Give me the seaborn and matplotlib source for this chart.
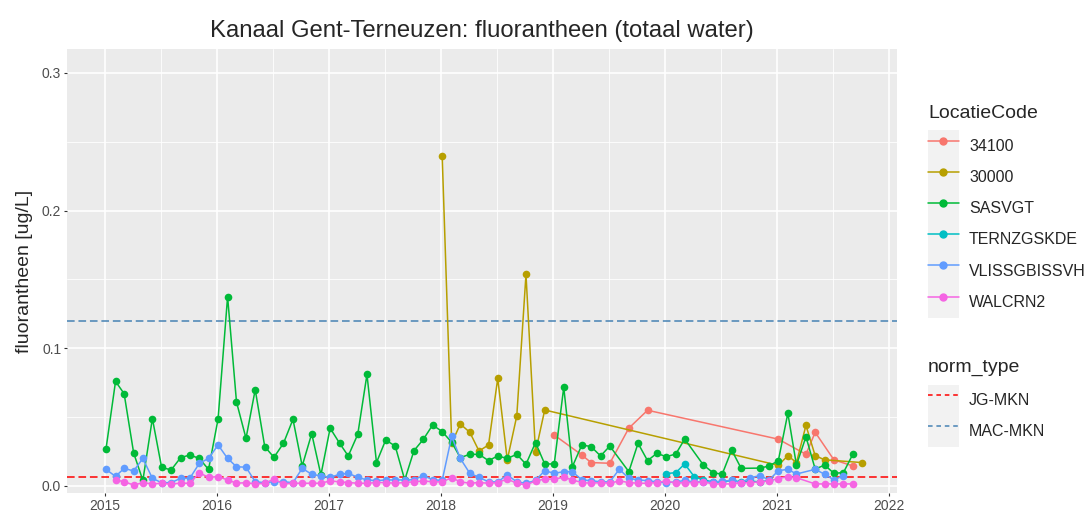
import pandas as pd
import seaborn as sns
import matplotlib.pyplot as plt
from matplotlib.lines import Line2D
from matplotlib.patches import Patch
from matplotlib.legend_handler import HandlerTuple

# location codes and ggplot hue colours
codes = ["34100", "30000", "SASVGT", "TERNZGSKDE", "VLISSGBISSVH", "WALCRN2"]
colors = ["#F8766D", "#B79F00", "#00BA38", "#00BFC4", "#619CFF", "#F564E3"]

# 34100 and 30000: sampled on separate months
red_months = ["2019-01", "2019-04", "2019-05", "2019-07", "2019-09", "2019-11",
              "2021-01", "2021-04", "2021-05", "2021-07", "2021-09"]
red_values = [0.037, 0.0225, 0.017, 0.0165, 0.042, 0.055,
              0.034, 0.023, 0.039, 0.019, 0.0145]

gold_months = ["2018-01", "2018-02", "2018-03", "2018-04", "2018-05", "2018-06",
               "2018-07", "2018-08", "2018-09", "2018-10", "2018-11", "2018-12",
               "2021-01", "2021-02", "2021-03", "2021-04", "2021-05", "2021-06", "2021-10"]
gold_values = [0.24, 0.031, 0.045, 0.039, 0.0254, 0.0298,
               0.0782, 0.0189, 0.0508, 0.1537, 0.0245, 0.0552,
               0.015, 0.022, 0.017, 0.044, 0.022, 0.019, 0.017]

# monthly series (None = no sample that month)
sasvgt_start = "2015-01"
sasvgt_values = [
    0.027, 0.076, 0.067, 0.024, 0.004, 0.049, 0.0136, 0.0116, 0.0206, 0.0225, 0.020, 0.012,
    0.0487, 0.1375, 0.061, 0.0346, 0.070, 0.0286, 0.0208, 0.031, 0.0484, 0.0145, 0.038, 0.008,
    0.042, 0.031, 0.0218, 0.0375, 0.081, 0.017, 0.0334, 0.029, 0.0044, 0.0256, 0.034, 0.0443,
    0.0395, 0.0317, 0.0206, 0.023, 0.023, 0.0184, 0.0218, 0.020, 0.023, 0.0158, 0.0315, 0.016,
    0.016, 0.0717, 0.014, 0.0298, 0.0286, 0.0218, 0.029, None, 0.0104, 0.031, 0.0184, 0.0237,
    0.0213, 0.0232, 0.0341, None, 0.0152, 0.0097, 0.0085, 0.0261, 0.0128, None, 0.013, 0.0145,
    0.0184, 0.0528, 0.0152, 0.0358, 0.0123, 0.0152, 0.0092, 0.0097, 0.0232,
]

ternz_start = "2020-01"
ternz_values = [0.009, 0.0097, 0.016, 0.0068, 0.0044, 0.003, 0.003, 0.004, 0.003, 0.0035, 0.003, 0.004]

vliss_start = "2015-01"
vliss_values = [
    0.012, 0.007, 0.0128, 0.0109, 0.020, 0.0056, 0.0024, 0.0024, 0.0056, 0.0056, 0.0165, 0.020,
    0.0298, 0.020, 0.014, 0.0136, 0.0031, 0.0024, 0.0031, 0.0031, 0.0024, 0.0128, 0.0085, 0.0073,
    0.0063, 0.0085, 0.0092, 0.0063, 0.0044, 0.0039, 0.0044, 0.0044, 0.0044, 0.0046, 0.0075, 0.0046,
    0.004, 0.036, 0.020, 0.0092, 0.0063, 0.003, 0.003, 0.008, 0.003, 0.002, 0.004, 0.0111,
    0.0092, 0.0104, 0.0104, 0.0044, 0.0039, 0.003, 0.003, 0.0121, 0.0056, 0.0044, 0.0039, 0.003,
    0.0024, 0.003, 0.004, 0.003, 0.003, 0.003, 0.0035, 0.004, 0.0024, 0.006, 0.0075, 0.0044,
    0.0111, 0.0121, 0.0087, None, 0.0121, 0.0085, 0.0044, 0.0075,
]

walcrn_start = "2015-02"
walcrn_values = [
    0.0044, 0.0031, 0.0007, 0.0024, 0.0015, 0.002, 0.0015, 0.002, 0.002, 0.0095, 0.0063,
    0.0068, 0.0044, 0.002, 0.0024, 0.0015, 0.002, 0.005, 0.0015, 0.002, 0.002, 0.002, 0.002,
    0.0037, 0.003, 0.0025, 0.002, 0.002, 0.0025, 0.0025, 0.002, 0.0025, 0.003, 0.0037, 0.003,
    0.003, 0.006, 0.003, 0.002, 0.0025, 0.002, 0.0025, 0.005, 0.002, 0.0007, 0.0037, 0.005,
    0.005, 0.0063, 0.0044, 0.0025, 0.002, 0.0025, 0.002, 0.0037, 0.0025, 0.002, 0.002, 0.0025,
    0.0037, 0.002, 0.0025, 0.0025, 0.003, 0.0015, 0.0015, 0.0015, 0.0025, 0.0025, 0.003, 0.0037,
    0.0054, 0.0068, 0.006, None, 0.0015, 0.0015, 0.0015, 0.0015, 0.0015,
]

norm_types = ["JG-MKN", "MAC-MKN"]
norm_values = [0.0063, 0.12]
norm_colors = ["red", "steelblue"]


def to_frame(code, months, values):
    d = pd.to_datetime(pd.Series(months) + "-05")
    return pd.DataFrame({"LocatieCode": code,
                         "jaar": d.dt.year + (d.dt.dayofyear - 1) / 365,
                         "waarde": values})


def monthly(code, start, values):
    months = pd.date_range(start, periods=len(values), freq="MS").strftime("%Y-%m")
    return to_frame(code, list(months), values)


df = pd.concat([
    to_frame("34100", red_months, red_values),
    to_frame("30000", gold_months, gold_values),
    monthly("SASVGT", sasvgt_start, sasvgt_values),
    monthly("TERNZGSKDE", ternz_start, ternz_values),
    monthly("VLISSGBISSVH", vliss_start, vliss_values),
    monthly("WALCRN2", walcrn_start, walcrn_values),
], ignore_index=True)
df["waarde"] = pd.to_numeric(df["waarde"], errors="coerce")
df = df.dropna()

sns.set_theme(style="darkgrid")
plt.rcParams["font.family"] = ["Liberation Sans", "DejaVu Sans"]

fig = plt.figure(figsize=(10.87, 5.16), dpi=100)
ax = fig.add_axes([66.7 / 1087, 1 - 493 / 516, 830.3 / 1087, 444 / 516])
ax.set_facecolor("#EBEBEB")

sns.lineplot(data=df, x="jaar", y="waarde", hue="LocatieCode", hue_order=codes,
             palette=colors, marker="o", markersize=5.5, markeredgewidth=0,
             linewidth=1.1, estimator=None, sort=True, legend=False, ax=ax)

for v, c in zip(norm_values, norm_colors):
    ax.axhline(v, color=c, lw=1.1, ls=(0, (5, 2.5)), zorder=1)

ax.set_xlim(2014.66, 2022.07)
ax.set_ylim(-0.0051, 0.3174)
ax.set_xticks(range(2015, 2023))
ax.set_xticks([y + 0.5 for y in range(2015, 2022)], minor=True)
ax.set_yticks([0.0, 0.1, 0.2, 0.3])
ax.set_yticklabels(["0.0", "0.1", "0.2", "0.3"])
ax.set_yticks([0.05, 0.15, 0.25], minor=True)
ax.grid(which="major", color="white", lw=1.2)
ax.grid(which="minor", color="white", lw=0.6)
ax.set_axisbelow(True)
for s in ax.spines.values():
    s.set_visible(False)
ax.tick_params(which="major", length=2.5, width=0.8, color="#333333",
               labelsize=10, labelcolor="#4D4D4D", pad=1.5, bottom=True, left=True)
ax.tick_params(which="minor", length=0)

ax.set_xlabel("")
ax.set_ylabel("fluorantheen [ug/L]", fontsize=14, labelpad=6)
ax.set_title("Kanaal Gent-Terneuzen: fluorantheen (totaal water)", fontsize=17.2, pad=9)

key_bg = "#F2F2F2"
tuple_handler = {tuple: HandlerTuple(ndivide=1, pad=0)}
legend_kw = dict(loc="upper left", frameon=False, fontsize=11.5, title_fontsize=14,
                 handlelength=1.94, handleheight=2.63, labelspacing=0,
                 handletextpad=0.63, borderpad=0, borderaxespad=0,
                 alignment="left", handler_map=tuple_handler)

handles1 = [(Patch(facecolor=key_bg, edgecolor="none"),
             Line2D([], [], color=c, marker="o", markersize=5, lw=1.1)) for c in colors]
leg1 = fig.legend(handles1, codes, title="LocatieCode",
                  bbox_to_anchor=(928 / 1087, 1 - 105 / 516), **legend_kw)
leg1._legend_box.sep = 6

handles2 = [(Patch(facecolor=key_bg, edgecolor="none"),
             Line2D([], [], color=c, lw=1.1, ls=(0, (3, 2.5)))) for c in norm_colors]
leg2 = fig.legend(handles2, norm_types, title="norm_type",
                  bbox_to_anchor=(928 / 1087, 1 - 359 / 516), **legend_kw)
leg2._legend_box.sep = 6

fig.savefig("out.png", dpi=100)
plt.close()
